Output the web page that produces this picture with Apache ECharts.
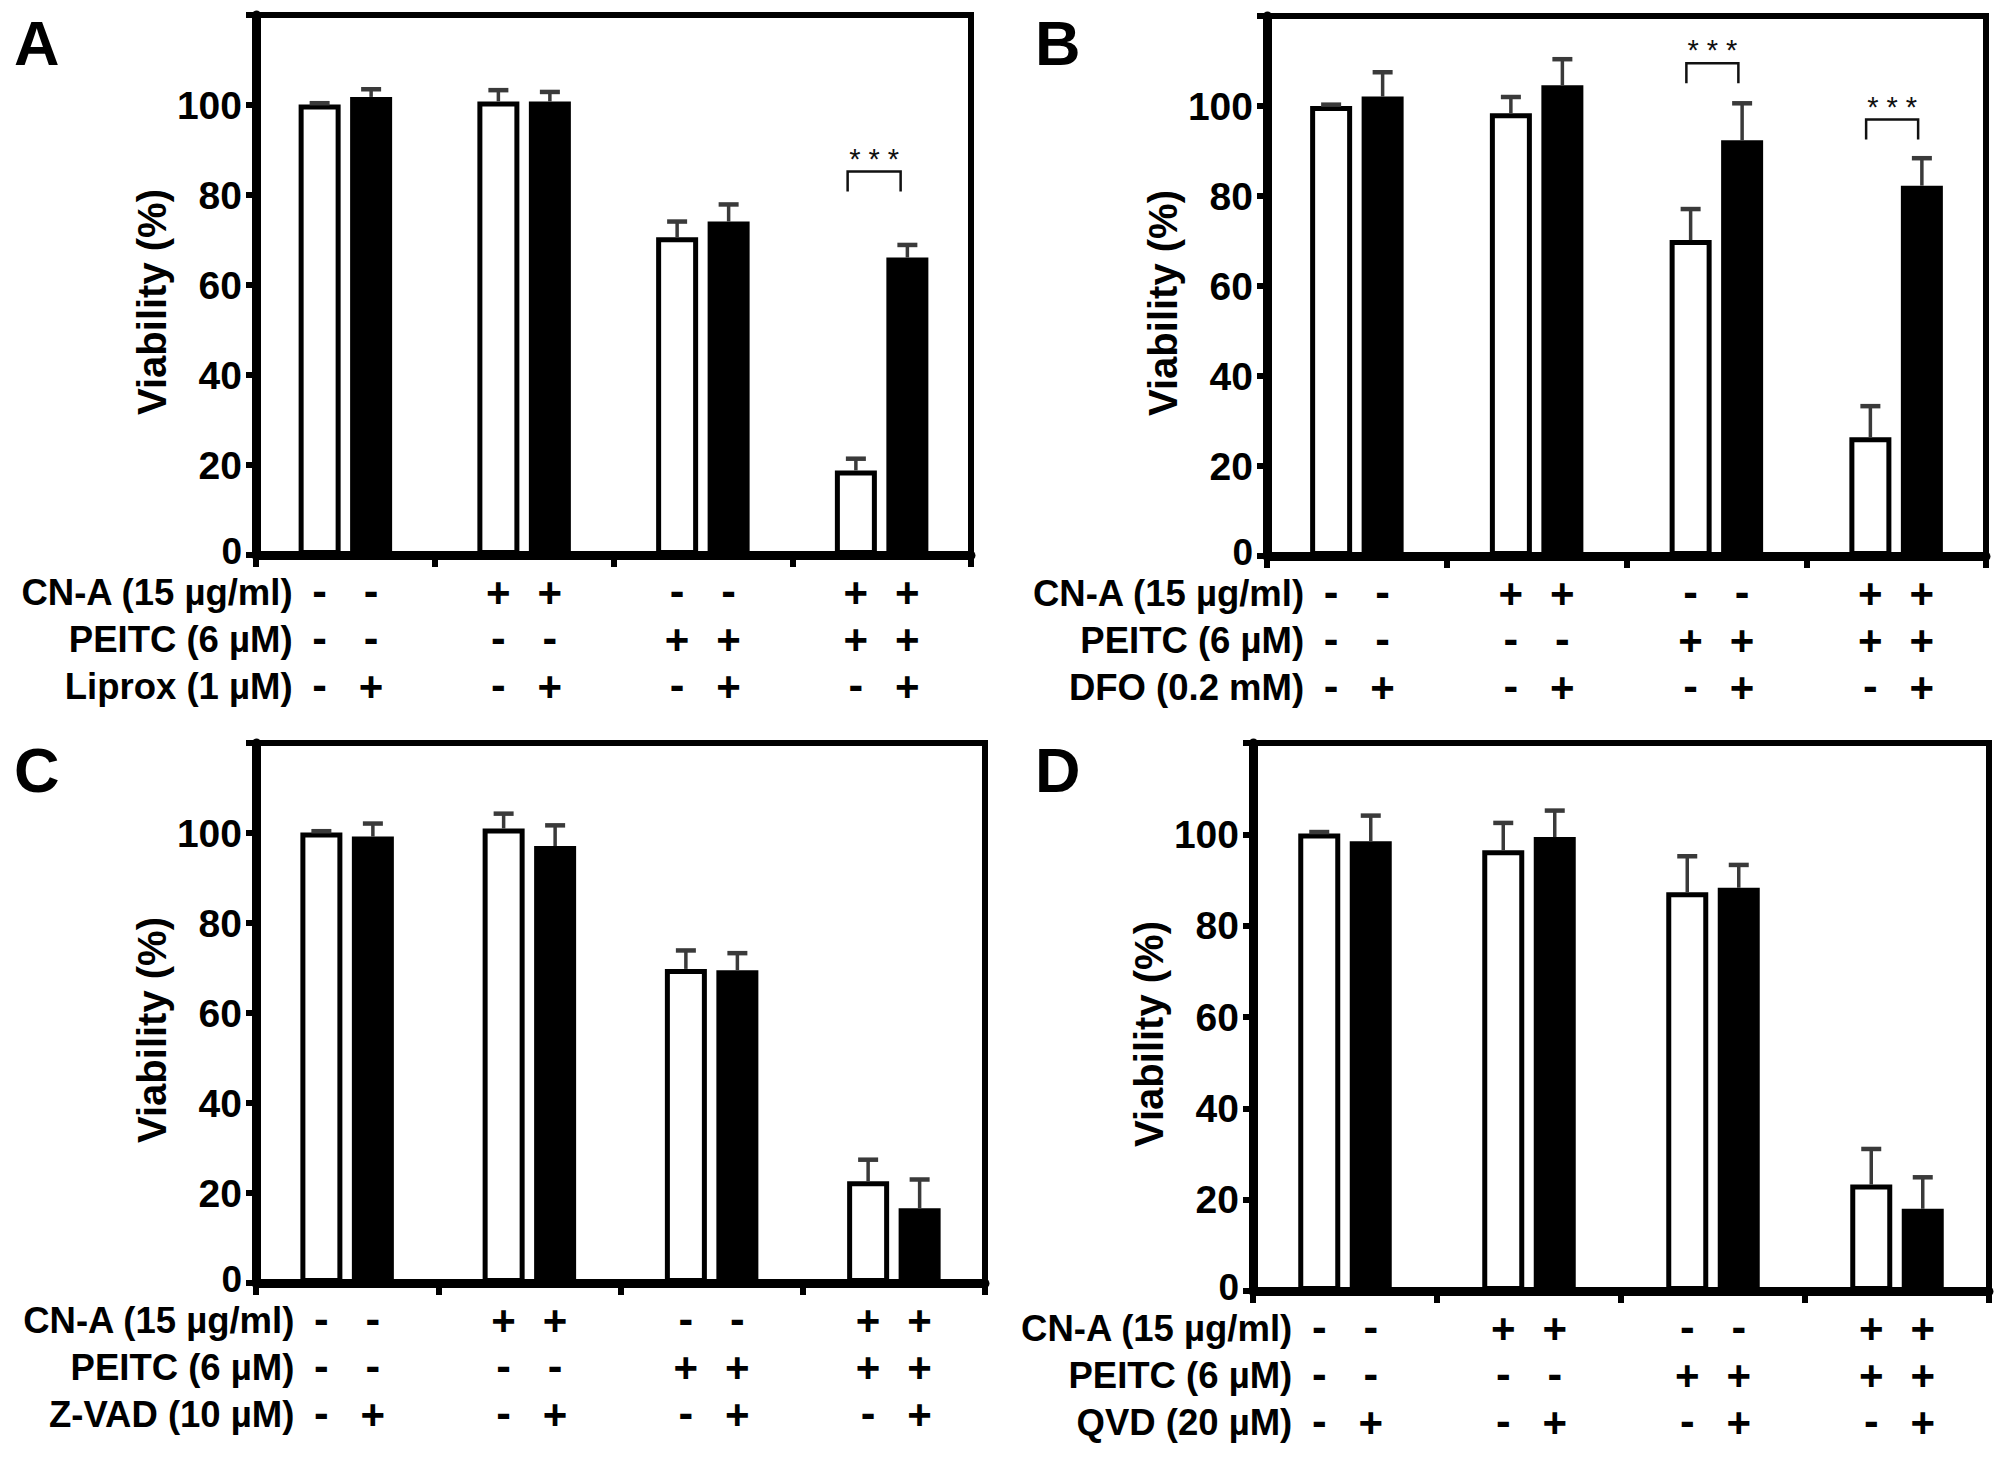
<!DOCTYPE html>
<html><head><meta charset="utf-8">
<script src="https://cdn.jsdelivr.net/npm/echarts@6/dist/echarts.min.js"></script>
<style>html,body{margin:0;padding:0;background:#fff}#chart{width:2008px;height:1466px}</style>
</head><body><div id="chart"></div>
<script>
// ---------- data ----------
const groups = ['G1', 'G2', 'G3', 'G4'];
const yTicks = [0, 20, 40, 60, 80, 100];
const panelLetters = ['A', 'B', 'C', 'D'];

const cnA   = ['-', '-', '+', '+', '-', '-', '+', '+'];
const peitc = ['-', '-', '-', '-', '+', '+', '+', '+'];
const inhib = ['-', '+', '-', '+', '-', '+', '-', '+'];

const rowNamesA = ['CN-A (15 µg/ml)', 'PEITC (6 µM)', 'Liprox (1 µM)'];
const rowNamesB = ['CN-A (15 µg/ml)', 'PEITC (6 µM)', 'DFO (0.2 mM)'];
const rowNamesC = ['CN-A (15 µg/ml)', 'PEITC (6 µM)', 'Z-VAD (10 µM)'];
const rowNamesD = ['CN-A (15 µg/ml)', 'PEITC (6 µM)', 'QVD (20 µM)'];

const withoutA = [100.1, 100.8, 70.6, 18.8];
const withoutErrA = [0.3, 2.5, 3.5, 2.6];
const withA = [101.8, 100.8, 74.1, 66.1];
const withErrA = [1.7, 2.1, 3.8, 2.8];
const sigA = [[3, 85.2]];

const withoutB = [100.0, 98.4, 70.2, 26.4];
const withoutErrB = [0.3, 3.6, 6.9, 6.9];
const withB = [102.1, 104.6, 92.4, 82.3];
const withErrB = [5.4, 5.8, 8.2, 6.1];
const sigB = [[2, 109.5], [3, 97.0]];

const withoutC = [100.1, 101.0, 69.8, 22.6];
const withoutErrC = [0.3, 3.3, 4.1, 4.8];
const withC = [99.2, 97.1, 69.5, 16.6];
const withErrC = [2.9, 4.6, 3.8, 6.4];
const sigC = [];

const withoutD = [100.2, 96.5, 87.3, 23.3];
const withoutErrD = [0.3, 6.0, 7.9, 7.8];
const withD = [98.5, 99.4, 88.3, 18.0];
const withErrD = [5.6, 5.8, 5.0, 6.9];
const sigD = [];

// ---------- layout / style ----------
const FONT = 'Liberation Sans';
const BAR_W = 42;
const BAR_GAP = '22.6%';
const HALF = 25.75;           // bar centre offset from group centre (px)
const ROW_OFF = [37, 84, 131];
const NAME_GAP = 27;
const ERR_COLOR = '#3a3a3a';
const BR_LEG = 20;
const brX = [[-34, 19], [-30, 22], [-30, 22], [-30, 22]];

const grids = [
  {left: 256, top: 15, width: 715, height: 540},
  {left: 1267, top: 16, width: 719, height: 540},
  {left: 256, top: 743, width: 729, height: 540},
  {left: 1253, top: 743, width: 736, height: 548}
];
const letterPos = [[14, 43], [1035, 43], [14, 770], [1035, 770]];
const blackBorder = [5, 0, 0, 5];

const panels = [
  {wo: withoutA, woE: withoutErrA, w: withA, wE: withErrA, sig: sigA, names: rowNamesA},
  {wo: withoutB, woE: withoutErrB, w: withB, wE: withErrB, sig: sigB, names: rowNamesB},
  {wo: withoutC, woE: withoutErrC, w: withC, wE: withErrC, sig: sigC, names: rowNamesC},
  {wo: withoutD, woE: withoutErrD, w: withD, wE: withErrD, sig: sigD, names: rowNamesD}
];
const signRows = [cnA, peitc, inhib];

function errRender(params, api) {
  const g = api.value(0), v = api.value(1), e = api.value(2), side = api.value(3);
  const base = api.coord([g, v]);
  const top = api.coord([g, v + e]);
  const x = base[0] + (side ? HALF : -HALF);
  return {type: 'group', children: [
    {type: 'line', shape: {x1: x, y1: base[1], x2: x, y2: top[1]}, style: {stroke: ERR_COLOR, lineWidth: 3.5}},
    {type: 'line', shape: {x1: x - 10, y1: top[1], x2: x + 10, y2: top[1]}, style: {stroke: ERR_COLOR, lineWidth: 4.5}}
  ]};
}

function makeSigRender(ext) {
  return function (params, api) {
    const g = api.value(0), v = api.value(1);
    const c = api.coord([g, v]);
    const x1 = c[0] + ext[0], x2 = c[0] + ext[1], y = c[1];
    return {type: 'group', children: [
      {type: 'polyline', shape: {points: [[x1, y + BR_LEG], [x1, y], [x2, y], [x2, y + BR_LEG]]},
       style: {stroke: '#111', lineWidth: 2.5, fill: null}},
      {type: 'text', style: {text: '* * *', x: (x1 + x2) / 2, y: y - 13, align: 'center', verticalAlign: 'middle',
        fontSize: 29, lineHeight: 24, fontFamily: FONT, fill: '#111'}}
    ]};
  };
}

function makeLabelRender(names) {
  return function (params, api) {
    const g = api.value(0), side = api.value(1), row = api.value(2), isName = api.value(3);
    const p = api.coord([g, 0]);
    const y = p[1] + ROW_OFF[row];
    if (isName) {
      return {type: 'text', style: {text: names[row], x: p[0] - HALF - NAME_GAP, y: y,
        align: 'right', verticalAlign: 'middle', fontSize: 36.5, lineHeight: 34, fontWeight: 'bold', fontFamily: FONT, fill: '#000'}};
    }
    const plus = signRows[row][g * 2 + side] === '+';
    return {type: 'text', style: {text: plus ? '+' : '-', x: p[0] + (side ? HALF : -HALF), y: plus ? y : y - 2,
      align: 'center', verticalAlign: 'middle', fontSize: plus ? 42 : 44, lineHeight: 34,
      fontWeight: 'bold', fontFamily: FONT, fill: '#000'}};
  };
}

const option = {
  animation: false,
  backgroundColor: '#fff',
  grid: [], xAxis: [], yAxis: [], series: [],
  graphic: panelLetters.map((t, i) => ({
    type: 'text', x: letterPos[i][0], y: letterPos[i][1],
    style: {text: t, fontSize: 63, fontWeight: 'bold', fontFamily: FONT, fill: '#000', align: 'left', verticalAlign: 'middle'}
  }))
};

panels.forEach((pn, i) => {
  option.grid.push(Object.assign({show: true, borderColor: '#000', borderWidth: 6, backgroundColor: 'transparent'}, grids[i]));
  option.xAxis.push({
    gridIndex: i, type: 'category', data: groups, boundaryGap: true,
    axisLine: {show: true, lineStyle: {color: '#000', width: 9}},
    axisTick: {show: true, length: 12, lineStyle: {color: '#000', width: 6}},
    axisLabel: {show: false}, splitLine: {show: false}
  });
  option.yAxis.push({
    gridIndex: i, type: 'value', min: 0, max: 120, interval: 20,
    axisLine: {show: true, lineStyle: {color: '#000', width: 9}},
    axisTick: {show: true, length: 10, lineStyle: {color: '#000', width: 6}},
    axisLabel: {show: true, margin: 14, color: '#000', fontSize: 39, lineHeight: 30, fontWeight: 'bold', fontFamily: FONT,
      formatter: v => (v === 0 ? '{z|0}' : (yTicks.indexOf(v) >= 0 ? String(v) : '')),
      rich: {z: {fontSize: 37, fontWeight: 'bold', fontFamily: FONT, color: '#000', lineHeight: 30, padding: [0, 0, 8, 0]}}},
    splitLine: {show: false},
    name: 'Viability (%)', nameLocation: 'middle', nameGap: 84, nameRotate: 90,
    nameTextStyle: {fontSize: 40, fontWeight: 'bold', fontFamily: FONT, color: '#000', padding: [0, 34, 0, 0]}
  });
  option.series.push({
    type: 'bar', xAxisIndex: i, yAxisIndex: i, data: pn.wo, barWidth: BAR_W, barGap: BAR_GAP, z: 2,
    itemStyle: {color: '#fff', borderColor: '#000', borderWidth: 5}
  });
  option.series.push({
    type: 'bar', xAxisIndex: i, yAxisIndex: i, data: pn.w, barWidth: BAR_W, barGap: BAR_GAP, z: 2,
    itemStyle: {color: '#000', borderColor: '#000', borderWidth: blackBorder[i]}
  });
  const errData = [];
  pn.wo.forEach((v, g) => errData.push([g, v, pn.woE[g], 0]));
  pn.w.forEach((v, g) => errData.push([g, v, pn.wE[g], 1]));
  option.series.push({
    type: 'custom', xAxisIndex: i, yAxisIndex: i, z: 4, renderItem: errRender,
    encode: {x: 0, y: 1}, data: errData, clip: false
  });
  if (pn.sig.length) {
    option.series.push({
      type: 'custom', xAxisIndex: i, yAxisIndex: i, z: 4, renderItem: makeSigRender(brX[i]),
      encode: {x: 0, y: 1}, data: pn.sig, clip: false
    });
  }
  const lblData = [];
  for (let row = 0; row < 3; row++) {
    lblData.push([0, 0, row, 1]);
    for (let k = 0; k < 8; k++) lblData.push([Math.floor(k / 2), k % 2, row, 0]);
  }
  option.series.push({
    type: 'custom', xAxisIndex: i, yAxisIndex: i, z: 4, renderItem: makeLabelRender(pn.names),
    encode: {x: 0, y: 1}, data: lblData, clip: false, silent: true
  });
});

const chart = echarts.init(document.getElementById('chart'), null, {renderer: 'svg', width: 2008, height: 1466});
chart.setOption(option);
</script>
</body></html>
